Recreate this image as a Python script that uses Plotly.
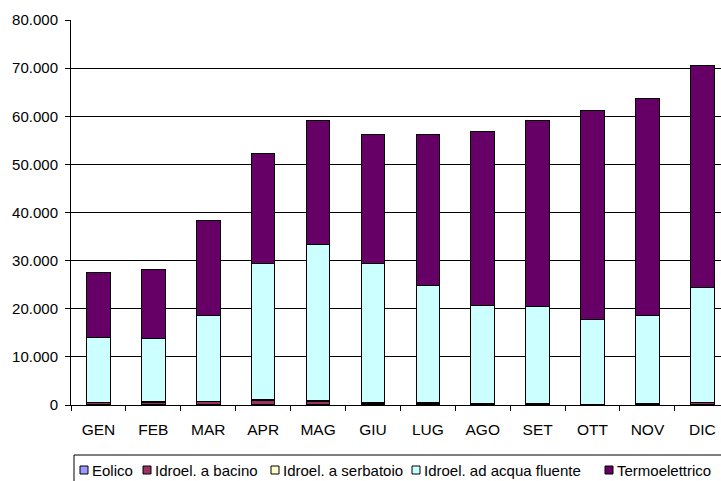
import plotly.graph_objects as go

# Monthly electricity production by source
mesi = ["GEN", "FEB", "MAR", "APR", "MAG", "GIU", "LUG", "AGO", "SET", "OTT", "NOV", "DIC"]

eolico = [30, 30, 20, 20, 20, 10, 10, 10, 20, 20, 30, 30]
idro_bacino = [400, 500, 700, 1000, 700, 400, 400, 150, 150, 100, 150, 500]
idro_serbatoio = [50, 250, 50, 50, 250, 50, 50, 50, 50, 50, 50, 50]
idro_fluente = [13620, 13120, 17730, 28330, 32430, 28940, 24340, 20490, 20280, 17530, 18370, 23920]
termoelettrico = [13500, 14300, 19800, 22900, 25700, 26900, 31500, 36200, 38700, 43500, 45100, 46100]

serie = [
    ("Eolico", eolico, "#9999FF"),
    ("Idroel. a bacino", idro_bacino, "#993366"),
    ("Idroel. a serbatoio", idro_serbatoio, "#FFFFCC"),
    ("Idroel. ad acqua fluente", idro_fluente, "#CCFFFF"),
    ("Termoelettrico", termoelettrico, "#660066"),
]

FONT = "Liberation Sans, Arial, sans-serif"
W, H = 721, 481
ML, MR, MT, MB = 71, 0, 20, 76
PW, PH = W - ML - MR, H - MT - MB

fig = go.Figure()
for nome, valori, colore in serie:
    fig.add_trace(go.Bar(
        name=nome, x=mesi, y=valori,
        marker=dict(color=colore, line=dict(color="#000000", width=1)),
        showlegend=False,
    ))

# Legend drawn as a boxed row of swatches and labels below the plot
def px_x(p):
    return (p - ML) / PW

def px_y(p):
    return (MT + PH - p) / PH

shapes = [dict(type="rect", xref="paper", yref="paper",
               x0=px_x(74), x1=px_x(735), y0=px_y(455), y1=px_y(490),
               line=dict(color="#000000", width=1), fillcolor="rgba(0,0,0,0)", layer="above")]
annotations = []
swatch_x = [80, 143, 271, 412, 605]
for (nome, _, colore), sx in zip(serie, swatch_x):
    shapes.append(dict(type="rect", xref="paper", yref="paper",
                       x0=px_x(sx), x1=px_x(sx + 8), y0=px_y(474), y1=px_y(466),
                       line=dict(color="#000000", width=1), fillcolor=colore, layer="above"))
    annotations.append(dict(xref="paper", yref="paper", x=px_x(sx + 10), y=px_y(470.5),
                            xanchor="left", yanchor="middle", showarrow=False, text=nome,
                            font=dict(family=FONT, size=15, color="#000000")))

fig.update_layout(
    width=W, height=H, autosize=False,
    margin=dict(l=ML, r=MR, t=MT, b=MB, pad=0),
    barmode="stack", bargap=0.57,
    plot_bgcolor="#FFFFFF", paper_bgcolor="#FFFFFF",
    separators=",.",
    font=dict(family=FONT, size=15, color="#000000"),
    shapes=shapes, annotations=annotations,
    xaxis=dict(
        range=[-0.5, 11.34], showline=True, linecolor="#000000", linewidth=1,
        ticks="outside", tickson="boundaries", ticklen=5, tickcolor="#000000",
        showgrid=False, tickfont=dict(size=15.5), ticklabelstandoff=10,
    ),
    yaxis=dict(
        range=[0, 80000], dtick=10000, tickformat=",d",
        showline=True, linecolor="#000000", linewidth=1,
        ticks="outside", ticklen=5, tickcolor="#000000",
        showgrid=True, gridcolor="#000000", gridwidth=1, zeroline=False,
        tickfont=dict(size=15), ticklabelstandoff=4,
    ),
)

fig.write_html("out.html")
